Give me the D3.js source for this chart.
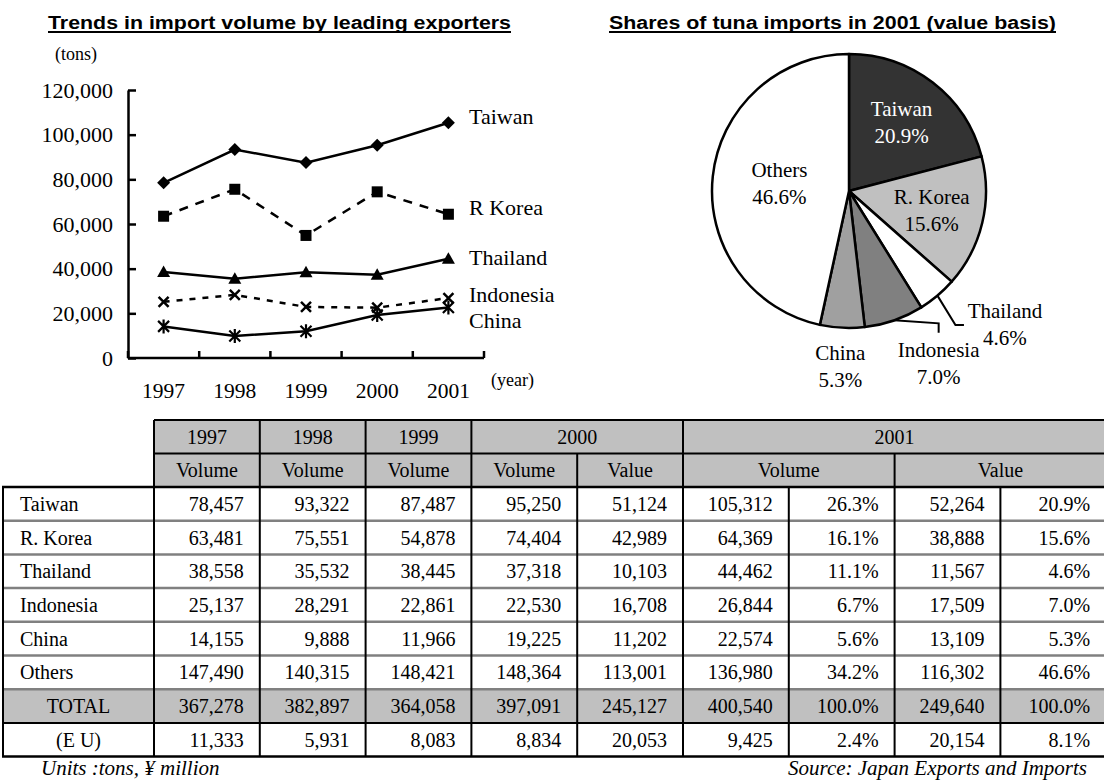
<!DOCTYPE html>
<html><head><meta charset="utf-8">
<script src="https://cdn.jsdelivr.net/npm/d3@7"></script>
<style>
body{margin:0;background:#fff}
svg{display:block}
</style></head><body><svg id="chart" width="1104" height="781"></svg>
<script>
// ---------------- DATA ----------------
const years = [1997, 1998, 1999, 2000, 2001];
const lineSeries = ["Taiwan", "R Korea", "Thailand", "Indonesia", "China"];
const yTicks = [0, 20000, 40000, 60000, 80000, 100000, 120000];

const rowLabels = ["Taiwan", "R. Korea", "Thailand", "Indonesia", "China", "Others", "TOTAL", "(E U)"];
const vol1997 = [78457, 63481, 38558, 25137, 14155, 147490, 367278, 11333];
const vol1998 = [93322, 75551, 35532, 28291, 9888, 140315, 382897, 5931];
const vol1999 = [87487, 54878, 38445, 22861, 11966, 148421, 364058, 8083];
const vol2000 = [95250, 74404, 37318, 22530, 19225, 148364, 397091, 8834];
const val2000 = [51124, 42989, 10103, 16708, 11202, 113001, 245127, 20053];
const vol2001 = [105312, 64369, 44462, 26844, 22574, 136980, 400540, 9425];
const volShare2001 = [26.3, 16.1, 11.1, 6.7, 5.6, 34.2, 100.0, 2.4];
const val2001 = [52264, 38888, 11567, 17509, 13109, 116302, 249640, 20154];
const valShare2001 = [20.9, 15.6, 4.6, 7.0, 5.3, 46.6, 100.0, 8.1];

const headerYears = ["1997", "1998", "1999", "2000", "2001"];
const headerYearSpans = [1, 1, 1, 2, 4];
const subHeaders = ["Volume", "Volume", "Volume", "Volume", "Value", "Volume", "Value"];
const subHeaderSpans = [1, 1, 1, 1, 1, 2, 2];

const pieLabels = ["Taiwan", "R. Korea", "Thailand", "Indonesia", "China", "Others"];

// ---------------- SETUP ----------------
const serif = "Liberation Serif, Times New Roman, serif";
const sans = "Liberation Sans, Arial, sans-serif";
const svg = d3.select("#chart").attr("font-family", serif);

function title(txt, x, width) {
  svg.append("text").attr("x", x).attr("y", 29)
    .attr("font-family", sans).attr("font-weight", "bold").attr("font-size", 18)
    .attr("textLength", width).attr("lengthAdjust", "spacingAndGlyphs").text(txt);
  svg.append("rect").attr("x", x).attr("y", 31).attr("width", width).attr("height", 2).attr("fill", "#000");
}
title("Trends in import volume by leading exporters", 48, 463);
title("Shares of tuna imports in 2001 (value basis)", 609, 447);

// ---------------- LINE CHART ----------------
const x = d3.scaleBand().domain(years).range([128, 484]);
const y = d3.scaleLinear().domain([0, 120000]).range([358, 90]);
const cx = d => x(d) + x.bandwidth() / 2;

svg.append("text").attr("x", 55).attr("y", 60).attr("font-size", 18).text("(tons)");

const gy = svg.append("g").attr("transform", "translate(128,0)")
  .call(d3.axisLeft(y).tickValues(yTicks).tickFormat(d3.format(","))
    .tickSizeInner(-8).tickSizeOuter(0).tickPadding(15));
gy.attr("font-family", serif).attr("font-size", 22);
gy.select(".domain").attr("stroke", "#000").attr("stroke-width", 2.5);
gy.selectAll(".tick line").attr("stroke", "#000").attr("stroke-width", 2.5);
gy.selectAll(".tick text").attr("fill", "#000");

// x axis with ticks at band edges
const xEdges = years.map(d => x(d)).concat([x.range()[1]]);
svg.append("line").attr("x1", x.range()[0]).attr("x2", x.range()[1])
  .attr("y1", y(0)).attr("y2", y(0)).attr("stroke", "#000").attr("stroke-width", 2.5);
svg.selectAll(".xtick").data(xEdges).join("line")
  .attr("x1", d => d).attr("x2", d => d).attr("y1", y(0)).attr("y2", y(0) - 7)
  .attr("stroke", "#000").attr("stroke-width", 2.5);
svg.selectAll(".xlab").data(years).join("text")
  .attr("x", d => cx(d)).attr("y", 398).attr("text-anchor", "middle").attr("font-size", 21.5).text(d => d);
svg.append("text").attr("x", 491).attr("y", 386).attr("font-size", 18).text("(year)");

const volumeByYear = [vol1997, vol1998, vol1999, vol2000, vol2001];
const seriesData = lineSeries.map((name, i) => ({
  name, values: years.map((yr, j) => ({ year: yr, value: volumeByYear[j][i] }))
}));
const dashes = [null, "9,8", null, "6,7", null];
const labelDy = [1, 1, 6, 4, 20];
const line = d3.line().x(d => cx(d.year)).y(d => y(d.value));

seriesData.forEach((s, i) => {
  svg.append("path").attr("d", line(s.values)).attr("fill", "none")
    .attr("stroke", "#000").attr("stroke-width", 2.5)
    .attr("stroke-dasharray", dashes[i]);
  const g = svg.append("g");
  s.values.forEach(d => {
    const px = cx(d.year), py = y(d.value);
    const m = g.append("g").attr("transform", `translate(${px},${py})`);
    if (i === 0) m.append("path").attr("d", "M0,-6.5L6.5,0L0,6.5L-6.5,0Z").attr("fill", "#000");
    else if (i === 1) m.append("rect").attr("x", -5.5).attr("y", -5.5).attr("width", 11).attr("height", 11).attr("fill", "#000");
    else if (i === 2) m.append("path").attr("d", "M0,-6.5L6.5,5L-6.5,5Z").attr("fill", "#000");
    else if (i === 3) m.append("path").attr("d", "M-5,-5L5,5M5,-5L-5,5").attr("stroke", "#000").attr("stroke-width", 2.5);
    else m.append("path").attr("d", "M-5.5,-5.5L5.5,5.5M5.5,-5.5L-5.5,5.5M0,-7L0,7").attr("stroke", "#000").attr("stroke-width", 2.2);
  });
  const last = s.values[s.values.length - 1];
  svg.append("text").attr("x", 469).attr("y", y(last.value) + labelDy[i])
    .attr("font-size", 22).text(s.name);
});

// ---------------- PIE ----------------
const pieCx = 849, pieCy = 191, R = 137;
const pieColors = ["#333333", "#c0c0c0", "#ffffff", "#808080", "#a0a0a0", "#ffffff"];
const pieData = d3.pie().sort(null).value(d => d.value)(
  pieLabels.map((l, i) => ({ label: l, value: val2001[i], share: valShare2001[i] })));
const arc = d3.arc().innerRadius(0).outerRadius(R);
const pg = svg.append("g").attr("transform", `translate(${pieCx},${pieCy})`);
pg.selectAll("path").data(pieData).join("path")
  .attr("d", arc).attr("fill", (d, i) => pieColors[i])
  .attr("stroke", "#000").attr("stroke-width", 2.5).attr("stroke-linejoin", "round");

// label placement: radial for inside / below labels, leader lines for small slices
const labelR = [86, 85, null, null, 176, 70];
const leader = { 2: { elbow: [18, 29.5], end: [8.5, 0], text: [41, -7] },
                 3: { elbow: [44.5, 3], end: [0, 9.5], text: [0, 24] } };
pieData.forEach((d, i) => {
  let tx, ty;
  if (labelR[i]) {
    [tx, ty] = d3.arc().innerRadius(labelR[i]).outerRadius(labelR[i]).centroid(d);
  } else {
    const [sx, sy] = d3.arc().innerRadius(R).outerRadius(R).centroid(d);
    const L = leader[i];
    const ex = sx + L.elbow[0], ey = sy + L.elbow[1];
    const fx = ex + L.end[0], fy = ey + L.end[1];
    pg.append("path").attr("d", `M${sx},${sy}L${ex},${ey}L${fx},${fy}`)
      .attr("fill", "none").attr("stroke", "#000").attr("stroke-width", 2);
    tx = fx + L.text[0]; ty = fy + L.text[1] + 6.5;
  }
  const t = pg.append("text").attr("text-anchor", "middle").attr("font-size", 21)
    .attr("fill", i === 0 ? "#fff" : "#000");
  t.append("tspan").attr("x", tx).attr("y", ty - 6.5).text(d.data.label);
  t.append("tspan").attr("x", tx).attr("y", ty + 20.5).text(d.data.share.toFixed(1) + "%");
});

// ---------------- TABLE ----------------
const tableCols = [vol1997, vol1998, vol1999, vol2000, val2000, vol2001, volShare2001, val2001, valShare2001];
const isPct = [false, false, false, false, false, false, true, false, true];
const tLeft = 3, labelRight = 154, colW = 105.8;
const colEdges = [tLeft].concat(d3.range(tableCols.length + 1).map(k => labelRight + k * colW));
const tTop = 420, hdrH = 33.5, bodyTop = tTop + 2 * hdrH, rowH = 33.7;
const rowY = i => bodyTop + i * rowH;
const tableRight = colEdges[colEdges.length - 1];
const fmt = d3.format(",");
const tg = svg.append("g").attr("font-size", 20);

// backgrounds
tg.append("rect").attr("x", labelRight).attr("y", tTop).attr("width", tableRight - labelRight)
  .attr("height", 2 * hdrH).attr("fill", "#c0c0c0");
tg.append("rect").attr("x", tLeft).attr("y", rowY(6)).attr("width", tableRight - tLeft)
  .attr("height", rowH).attr("fill", "#c0c0c0");

// header text + lines
function headerRow(labels, spans, y0) {
  let c = 0;
  labels.forEach((lab, k) => {
    const x0 = colEdges[1 + c], x1 = colEdges[1 + c + spans[k]];
    tg.append("text").attr("x", (x0 + x1) / 2).attr("y", y0 + hdrH / 2 + 7)
      .attr("text-anchor", "middle").text(lab);
    tg.append("line").attr("x1", x1).attr("x2", x1).attr("y1", y0).attr("y2", y0 + hdrH)
      .attr("stroke", "#000").attr("stroke-width", 2);
    c += spans[k];
  });
}
headerRow(headerYears, headerYearSpans, tTop);
headerRow(subHeaders, subHeaderSpans, tTop + hdrH);
[tTop, tTop + hdrH].forEach(yy => tg.append("line").attr("x1", labelRight).attr("x2", tableRight)
  .attr("y1", yy).attr("y2", yy).attr("stroke", "#000").attr("stroke-width", 2));
tg.append("line").attr("x1", labelRight).attr("x2", labelRight).attr("y1", tTop).attr("y2", bodyTop)
  .attr("stroke", "#000").attr("stroke-width", 2);

// body horizontal separators
for (let i = 1; i < rowLabels.length; i++) {
  tg.append("line").attr("x1", tLeft).attr("x2", tableRight).attr("y1", rowY(i)).attr("y2", rowY(i))
    .attr("stroke", i >= 7 ? "#000" : "#808080").attr("stroke-width", i >= 7 ? 2 : 2.5);
}
// body verticals
colEdges.forEach(xx => tg.append("line").attr("x1", xx).attr("x2", xx)
  .attr("y1", bodyTop).attr("y2", rowY(rowLabels.length)).attr("stroke", "#000").attr("stroke-width", 2));
[bodyTop, rowY(rowLabels.length)].forEach(yy => tg.append("line").attr("x1", tLeft - 1).attr("x2", tableRight)
  .attr("y1", yy).attr("y2", yy).attr("stroke", "#000").attr("stroke-width", 2.5));

// body text
rowLabels.forEach((lab, r) => {
  const by = rowY(r) + rowH / 2 + 7;
  const centered = r >= 6;
  tg.append("text").attr("x", centered ? (tLeft + labelRight) / 2 : 20).attr("y", by)
    .attr("text-anchor", centered ? "middle" : "start").text(lab);
  tableCols.forEach((col, c) => {
    tg.append("text").attr("x", colEdges[c + 2] - 16).attr("y", by).attr("text-anchor", "end")
      .text(isPct[c] ? col[r].toFixed(1) + "%" : fmt(col[r]));
  });
});

// footer
svg.append("text").attr("x", 41).attr("y", 775).attr("font-size", 21).attr("font-style", "italic")
  .text("Units :tons, ¥ million");
svg.append("text").attr("x", 1087).attr("y", 775).attr("font-size", 21).attr("font-style", "italic")
  .attr("text-anchor", "end").text("Source: Japan Exports and Imports");
</script></body></html>
